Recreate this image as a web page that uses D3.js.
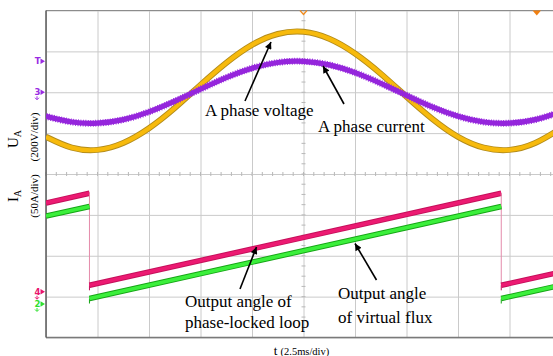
<!DOCTYPE html>
<html>
<head>
<meta charset="utf-8">
<script src="https://cdn.jsdelivr.net/npm/d3@7"></script>
<style>
  html, body { margin: 0; padding: 0; background: #ffffff; }
  svg { display: block; font-family: "Liberation Serif", "Times New Roman", serif; }
</style>
</head>
<body>
<svg id="scope" width="553" height="356"></svg>
<script>
// ---- data -------------------------------------------------------------
// sample instants in ms (half a division apart)
const sampleTimes = [0, 1.25, 2.5, 3.75, 5, 6.25, 7.5, 8.75, 10, 11.25, 12.5,
                     13.75, 15, 16.25, 17.5, 18.75, 20, 21.25, 22.5, 23.75, 25];
// phase A voltage (V)
const phaseVoltage = [-218, -271, -282, -248, -176, -77, 36, 144, 232, 285, 296,
                      262, 190, 91, -22, -130, -218, -271, -282, -248, -176];
// phase A current (A)
const phaseCurrent = [-29.4, -36.4, -37.8, -33.5, -24.0, -10.9, 3.8, 18.0, 29.4, 36.4, 37.8,
                      33.5, 24.0, 10.9, -3.8, -18.0, -29.4, -36.4, -37.8, -33.5, -24.0];
// angle traces (rad) at their break points; equal instants mark a wrap
const angleTimes = [0, 2.11, 2.11, 22.10, 22.10, 25];
const pllAngle   = [5.62, 6.28, 0, 6.28, 0, 0.91];
const fluxAngle  = [5.63, 6.28, 0, 6.28, 0, 0.91];

// screen graticule
const timeGrid = [0, 2.5, 5, 7.5, 10, 12.5, 15, 17.5, 20, 22.5, 25];
const divGrid  = [-4, -3, -2, -1, 0, 1, 2, 3, 4];

// channel settings: units per division and position (div)
const voltsPerDiv = 200, voltOffset = 2;
const ampsPerDiv = 50, ampOffset = 2;
const radPerDiv = 2.79, pllOffset = -2.723, fluxOffset = -3.046;

// channel reference markers on the left edge
const markerLabels = ["T", "3", "4", "2"];
const markerLevels = [2.76, 2.0, -2.88, -3.18];
const markerColors = ["#9a2be2", "#9a2be2", "#e8146c", "#2fe02f"];

// ---- layout -----------------------------------------------------------
const svg = d3.select("#scope");
const plotL = 46, plotT = 10.5, plotB = 337.5, plotR = 561;
const x = d3.scaleLinear().domain([0, 25]).range([plotL, plotR]);
const y = d3.scaleLinear().domain([-4, 4]).range([plotB, plotT]);

svg.append("rect").attr("width", 553).attr("height", 356).attr("fill", "#fff");

const defs = svg.append("defs");
defs.append("clipPath").attr("id", "plotClip")
  .append("rect").attr("x", plotL).attr("y", plotT - 1)
  .attr("width", 553 - plotL).attr("height", plotB - plotT + 2);

// graticule through the axes
const gx = svg.append("g").attr("transform", `translate(0,${plotB})`)
  .call(d3.axisBottom(x).tickValues(timeGrid).tickSize(-(plotB - plotT)).tickFormat(""));
const gy = svg.append("g").attr("transform", `translate(${plotL},0)`)
  .call(d3.axisLeft(y).tickValues(divGrid).tickSize(-(plotR - plotL)).tickFormat(""));
[gx, gy].forEach(g => {
  g.select(".domain").remove();
  g.selectAll(".tick line").attr("stroke", "#cacaca").attr("stroke-width", 1);
});

// minor ticks along the centre cross
const minorX = d3.range(0, 25.001, 0.5);
svg.append("g").selectAll("line").data(minorX).join("line")
  .attr("x1", d => x(d)).attr("x2", d => x(d))
  .attr("y1", y(0) - 2).attr("y2", y(0) + 2)
  .attr("stroke", "#b8b8b8");
const minorY = d3.range(-4, 4.001, 0.25);
svg.append("g").selectAll("line").data(minorY).join("line")
  .attr("x1", x(12.5) - 2).attr("x2", x(12.5) + 2)
  .attr("y1", d => y(d)).attr("y2", d => y(d))
  .attr("stroke", "#b8b8b8");

// frame
svg.append("line").attr("x1", plotL).attr("x2", 553).attr("y1", plotT).attr("y2", plotT)
  .attr("stroke", "#8c8c8c").attr("stroke-width", 1.2);
svg.append("line").attr("x1", plotL).attr("x2", 553).attr("y1", plotB).attr("y2", plotB)
  .attr("stroke", "#7a7a7a").attr("stroke-width", 1.5);
svg.append("line").attr("x1", plotL).attr("x2", plotL).attr("y1", plotT).attr("y2", plotB)
  .attr("stroke", "#5a5a5a").attr("stroke-width", 1.5);

// ---- traces -----------------------------------------------------------
const plot = svg.append("g").attr("clip-path", "url(#plotClip)");

const voltLine = d3.line()
  .x((d, i) => x(sampleTimes[i]))
  .y(d => y(voltOffset + d / voltsPerDiv))
  .curve(d3.curveNatural);
const ampLine = d3.line()
  .x((d, i) => x(sampleTimes[i]))
  .y(d => y(ampOffset + d / ampsPerDiv))
  .curve(d3.curveNatural);

// voltage: amber band with darker rim
plot.append("path").attr("d", voltLine(phaseVoltage))
  .attr("fill", "none").attr("stroke", "#b38c1c").attr("stroke-width", 6);
plot.append("path").attr("d", voltLine(phaseVoltage))
  .attr("fill", "none").attr("stroke", "#f7ba0c").attr("stroke-width", 4.2);

// current: violet band with switching ripple
plot.append("path").attr("d", ampLine(phaseCurrent))
  .attr("fill", "none").attr("stroke", "#9526dc").attr("stroke-width", 5.2);
plot.append("path").attr("d", ampLine(phaseCurrent))
  .attr("fill", "none").attr("stroke", "#9526dc").attr("stroke-width", 6.8)
  .attr("stroke-dasharray", "0.9,1.6");

// angle ramps
function drawAngle(values, offset, core, rim, wrapColor, wrapTail) {
  const pts = values.map((a, i) => ({ t: angleTimes[i], a }));
  const yy = a => y(offset + a / radPerDiv);
  for (let i = 0; i < pts.length - 1; i++) {
    const p = pts[i], q = pts[i + 1];
    if (p.t === q.t) {
      // wrap from 2π back to 0
      if (wrapTail) {
        plot.append("line").attr("x1", x(p.t)).attr("x2", x(p.t))
          .attr("y1", yy(p.a)).attr("y2", yy(q.a))
          .attr("stroke", wrapColor).attr("stroke-width", 1);
      }
      plot.append("line").attr("x1", x(p.t)).attr("x2", x(p.t))
        .attr("y1", yy(q.a)).attr("y2", yy(q.a) + 5)
        .attr("stroke", rim).attr("stroke-width", 1);
    } else {
      const seg = d3.line().x(d => x(d.t)).y(d => yy(d.a))([p, q]);
      plot.append("path").attr("d", seg).attr("fill", "none")
        .attr("stroke", rim).attr("stroke-width", 5.5);
      plot.append("path").attr("d", seg).attr("fill", "none")
        .attr("stroke", core).attr("stroke-width", 3.6);
    }
  }
}
drawAngle(pllAngle, pllOffset, "#ec1a72", "#c40f5a", "#e48aaa", true);
drawAngle(fluxAngle, fluxOffset, "#3bef3b", "#15a515", "#3bef3b", false);

// ---- markers ----------------------------------------------------------
const mk = svg.append("g");
markerLabels.forEach((lab, i) => {
  const yy = y(markerLevels[i]);
  mk.append("text").attr("x", 40.5).attr("y", yy + 3).attr("text-anchor", "end")
    .attr("font-family", "DejaVu Sans, sans-serif").attr("font-size", 8.5).attr("font-weight", "bold")
    .attr("fill", markerColors[i]).text(lab);
  mk.append("path")
    .attr("d", `M40.5,${yy - 2.8} L45,${yy} L40.5,${yy + 2.8} Z`)
    .attr("fill", markerColors[i]);
  if (lab !== "T") {
    mk.append("path").attr("d", `M37,${yy + 4} L37,${yy + 7} M35,${yy + 5.5} L37,${yy + 7.5} L39,${yy + 5.5}`)
      .attr("stroke", markerColors[i]).attr("stroke-width", 1).attr("fill", "none");
  }
});

// trigger position and delay markers
svg.append("path").attr("d", `M${x(12.5) - 3.5},${plotT} L${x(12.5)},${plotT + 4} L${x(12.5) + 3.5},${plotT}`)
  .attr("fill", "none").attr("stroke", "#f08a1c").attr("stroke-width", 1.2);
svg.append("path").attr("d", `M532.5,${plotT} L541,${plotT} L536.8,${plotT + 5} Z`)
  .attr("fill", "#f07f10");

// ---- annotations ------------------------------------------------------
defs.append("marker").attr("id", "head").attr("viewBox", "0 0 10 10")
  .attr("refX", 10).attr("refY", 5).attr("markerWidth", 9).attr("markerHeight", 7)
  .attr("markerUnits", "userSpaceOnUse").attr("orient", "auto")
  .append("path").attr("d", "M0,0 L10,5 L0,10 Z").attr("fill", "#000");

const arrows = [
  [245, 101, 271, 42],
  [344, 104, 323, 66],
  [240, 289, 256.5, 247],
  [376.5, 280, 355, 243.5]
];
svg.append("g").selectAll("line").data(arrows).join("line")
  .attr("x1", d => d[0]).attr("y1", d => d[1]).attr("x2", d => d[2]).attr("y2", d => d[3])
  .attr("stroke", "#000").attr("stroke-width", 1.6).attr("marker-end", "url(#head)");

const notes = [
  ["A phase voltage", 205, 115.5],
  ["A phase current", 318, 131.5],
  ["Output angle of", 185, 307],
  ["phase-locked loop", 185, 327.5],
  ["Output angle", 338, 298.5],
  ["of virtual flux", 338, 323]
];
svg.append("g").selectAll("text").data(notes).join("text")
  .attr("x", d => d[1]).attr("y", d => d[2])
  .attr("font-size", 17).attr("fill", "#000").text(d => d[0]);

// axis captions
function vCaption(cx, cy, main, sub, size, subSize) {
  const t = svg.append("text").attr("transform", `translate(${cx},${cy}) rotate(-90)`)
    .attr("text-anchor", "middle").attr("font-size", size).attr("fill", "#000");
  t.append("tspan").text(main);
  if (sub) t.append("tspan").attr("font-size", subSize).attr("dy", 3).text(sub);
  return t;
}
vCaption(18, 139, "U", "A", 15, 10);
vCaption(38, 137, "(200V/div)", null, 11);
vCaption(18, 196, "I", "A", 15, 10);
vCaption(38, 196, "(50A/div)", null, 11);

const tl = svg.append("text").attr("x", 301.5).attr("y", 354.5).attr("text-anchor", "middle").attr("fill", "#000");
tl.append("tspan").attr("font-size", 13).text("t ");
tl.append("tspan").attr("font-size", 10.5).text("(2.5ms/div)");
</script>
</body>
</html>
